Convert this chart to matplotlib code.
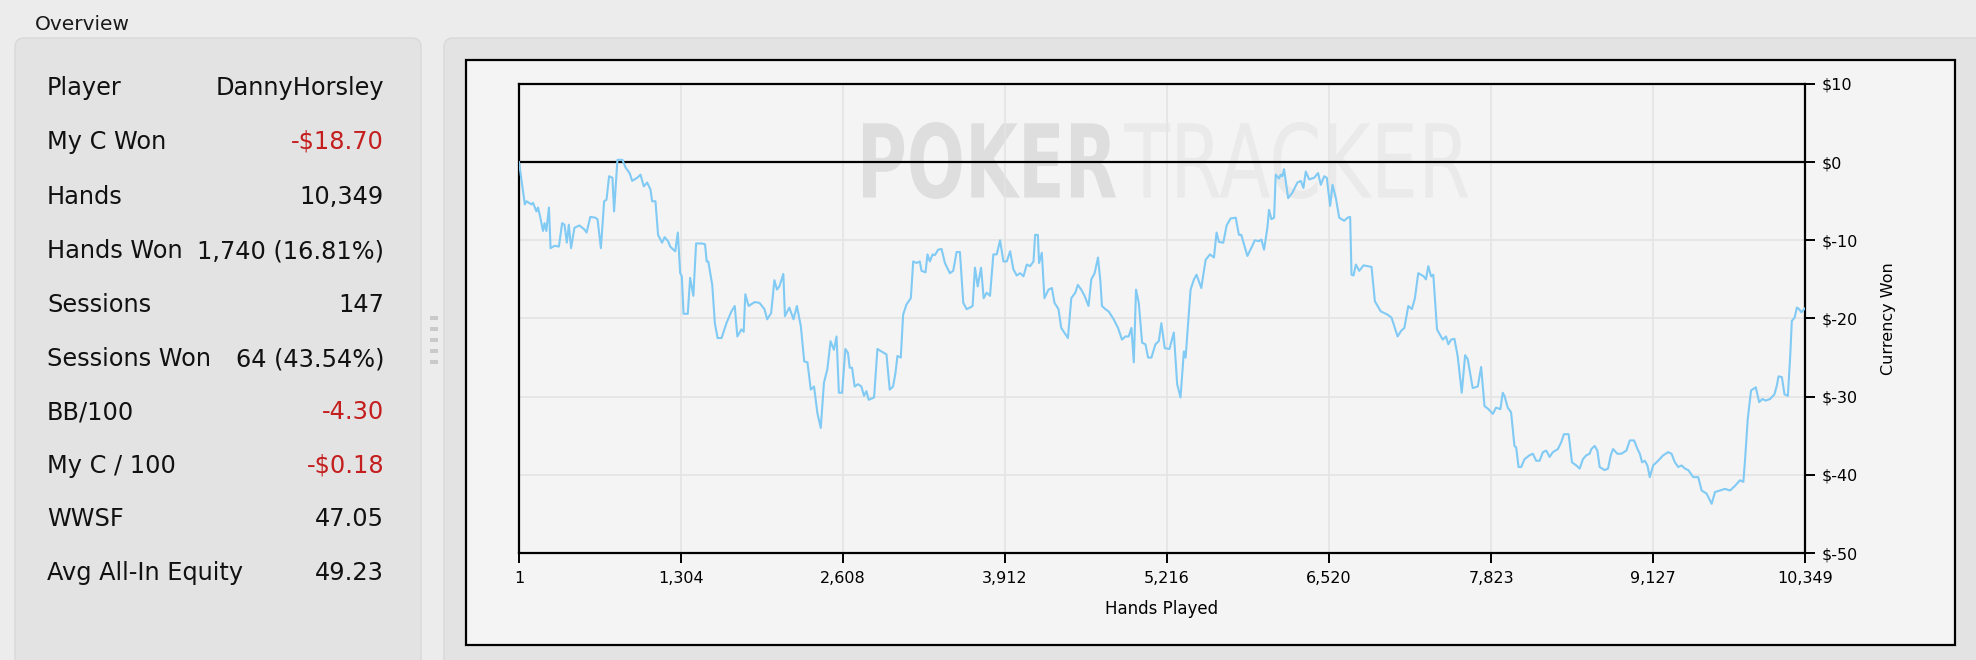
"""PokerTracker-style overview panel with a cumulative winnings graph."""

import matplotlib

matplotlib.use("Agg")
import matplotlib.pyplot as plt
from matplotlib.font_manager import FontProperties
from matplotlib.patches import FancyBboxPatch, PathPatch, Rectangle
from matplotlib.textpath import TextPath
from matplotlib.transforms import Affine2D

# --- stats table -----------------------------------------------------------
stat_labels = ["Player", "My C Won", "Hands", "Hands Won", "Sessions",
               "Sessions Won", "BB/100", "My C / 100", "WWSF",
               "Avg All-In Equity"]
stat_values = ["DannyHorsley", "-$18.70", "10,349", "1,740 (16.81%)", "147",
               "64 (43.54%)", "-4.30", "-$0.18", "47.05", "49.23"]
stat_negative = [False, True, False, False, False, False, True, True, False, False]

# --- graph data -------------------------------------------------------------
hands = [
    1, 48, 61, 101, 114, 141, 154, 173, 194, 207, 221, 242, 255, 287, 322, 348,
    367, 386, 402, 420, 447, 487, 527, 545, 575, 614, 633, 660, 686, 705, 726,
    753, 766, 793, 833, 859, 891, 912, 952, 979, 1005, 1032, 1059, 1072, 1099,
    1120, 1152, 1173, 1200, 1218, 1237, 1258, 1279, 1298, 1311, 1325, 1359,
    1378, 1404, 1426, 1471, 1498, 1511, 1524, 1556, 1577, 1599, 1631, 1670,
    1710, 1737, 1758, 1790, 1809, 1822, 1849, 1897, 1936, 1976, 1998, 2030,
    2056, 2077, 2096, 2128, 2141, 2176, 2210, 2237, 2269, 2296, 2322, 2349,
    2375, 2402, 2429, 2455, 2482, 2508, 2535, 2556, 2575, 2601, 2627, 2648,
    2662, 2681, 2702, 2729, 2756, 2777, 2796, 2815, 2858, 2885, 2917, 2958,
    2984, 3011, 3030, 3046, 3073, 3092, 3119, 3154, 3173, 3200, 3226, 3240,
    3272, 3288, 3307, 3329, 3347, 3374, 3401, 3428, 3468, 3495, 3522, 3549,
    3576, 3603, 3630, 3651, 3670, 3692, 3719, 3740, 3764, 3791, 3818, 3845,
    3872, 3899, 3926, 3953, 3979, 4006, 4033, 4060, 4087, 4114, 4141, 4154,
    4176, 4186, 4208, 4229, 4262, 4289, 4310, 4342, 4364, 4418, 4445, 4477,
    4498, 4525, 4552, 4584, 4606, 4633, 4660, 4679, 4692, 4719, 4746, 4786,
    4821, 4853, 4880, 4907, 4929, 4948, 4966, 4988, 5015, 5042, 5063, 5090,
    5122, 5149, 5170, 5197, 5235, 5270, 5297, 5324, 5351, 5365, 5405, 5432,
    5453, 5491, 5526, 5561, 5593, 5614, 5633, 5668, 5695, 5727, 5768, 5794,
    5813, 5862, 5902, 5921, 5956, 5975, 5996, 6023, 6036, 6055, 6077, 6090,
    6117, 6130, 6144, 6157, 6190, 6224, 6265, 6292, 6313, 6332, 6359, 6399,
    6431, 6453, 6480, 6501, 6528, 6547, 6574, 6601, 6641, 6668, 6689, 6700,
    6716, 6735, 6762, 6797, 6829, 6861, 6888, 6936, 6990, 7022, 7071, 7098,
    7125, 7157, 7186, 7210, 7237, 7280, 7299, 7318, 7340, 7358, 7388, 7434,
    7460, 7479, 7501, 7528, 7554, 7587, 7614, 7635, 7675, 7716, 7743, 7770,
    7802, 7837, 7863, 7898, 7917, 7931, 7957, 7984, 8011, 8025, 8044, 8065,
    8092, 8132, 8159, 8186, 8213, 8240, 8267, 8294, 8320, 8361, 8388, 8409,
    8447, 8474, 8509, 8536, 8562, 8589, 8616, 8630, 8657, 8678, 8697, 8737,
    8764, 8786, 8804, 8839, 8872, 8912, 8939, 8974, 9001, 9020, 9038, 9060,
    9081, 9100, 9127, 9167, 9208, 9248, 9275, 9302, 9329, 9356, 9383, 9410,
    9450, 9490, 9517, 9557, 9598, 9625, 9665, 9705, 9746, 9786, 9826, 9853,
    9867, 9888, 9915, 9953, 9980, 10006, 10033, 10068, 10103, 10122, 10136,
    10163, 10184, 10211, 10230, 10243, 10265, 10284, 10302, 10319, 10349,
]
won = [
    0.0, -5.4, -5.0, -5.4, -5.2, -6.3, -5.8, -7.1, -8.8, -7.8, -8.8, -5.8,
    -11.0, -10.7, -10.8, -7.8, -8.0, -10.3, -8.0, -11.0, -8.4, -8.1, -8.6,
    -9.0, -7.0, -7.1, -7.3, -11.0, -5.0, -4.8, -1.8, -2.0, -6.3, 0.3, 0.3,
    -0.7, -1.4, -2.4, -2.0, -1.6, -3.1, -2.6, -3.5, -5.0, -5.0, -9.3, -10.3,
    -9.6, -10.1, -10.8, -11.1, -11.4, -9.0, -14.2, -14.6, -19.4, -19.4,
    -14.8, -17.1, -10.4, -10.4, -10.5, -12.7, -12.7, -15.7, -20.6, -22.5,
    -22.5, -20.6, -19.1, -18.4, -22.3, -21.4, -21.7, -16.9, -18.4, -17.9,
    -18.0, -18.8, -20.1, -19.3, -15.1, -16.3, -15.9, -14.3, -19.7, -18.6,
    -20.1, -18.4, -21.0, -25.5, -25.6, -29.1, -28.7, -32.1, -34.0, -28.2,
    -26.5, -22.9, -24.0, -22.3, -29.5, -29.5, -23.9, -24.4, -26.3, -26.3,
    -28.7, -28.4, -28.7, -29.9, -29.3, -30.4, -30.1, -23.9, -24.2, -24.6,
    -29.1, -28.7, -27.0, -24.8, -25.0, -19.5, -18.2, -17.4, -12.7, -12.9,
    -12.7, -13.9, -14.1, -11.8, -12.7, -11.8, -11.9, -11.2, -11.1, -12.9,
    -14.2, -13.9, -11.5, -11.5, -18.0, -18.8, -18.6, -18.4, -13.5, -15.9,
    -13.5, -17.4, -16.7, -17.1, -11.8, -11.8, -10.0, -12.7, -12.7, -11.4,
    -13.7, -14.5, -14.2, -14.6, -13.1, -13.3, -12.7, -9.3, -9.3, -12.9,
    -11.6, -17.4, -16.3, -16.1, -18.0, -18.8, -21.2, -22.5, -17.4, -16.7,
    -15.7, -16.3, -17.1, -18.4, -15.0, -14.2, -12.2, -15.2, -18.4, -18.8,
    -19.1, -20.1, -21.2, -22.7, -22.3, -22.3, -21.2, -25.6, -16.3, -18.0,
    -23.1, -23.3, -25.0, -25.0, -23.3, -22.9, -20.6, -23.8, -23.9, -21.8,
    -28.4, -30.1, -24.2, -25.0, -16.3, -15.0, -14.4, -16.1, -12.5, -11.8,
    -12.2, -9.0, -10.2, -10.3, -8.1, -7.2, -7.1, -9.3, -9.3, -12.0, -10.7,
    -10.0, -10.1, -9.9, -11.2, -8.4, -6.1, -7.3, -7.1, -1.6, -2.1, -1.6,
    -1.8, -0.9, -4.6, -3.9, -2.6, -2.4, -3.3, -1.2, -2.2, -2.0, -1.4, -2.9,
    -1.8, -2.0, -5.6, -2.9, -4.6, -7.1, -7.5, -7.1, -7.0, -14.4, -14.5,
    -13.1, -13.9, -13.2, -13.3, -13.4, -17.8, -19.1, -19.5, -19.9, -22.3,
    -21.6, -21.2, -18.4, -18.8, -17.4, -14.2, -14.6, -15.0, -13.3, -14.6,
    -14.4, -21.4, -22.7, -22.3, -23.3, -22.7, -22.6, -24.8, -29.5, -24.7,
    -25.2, -28.9, -28.7, -26.2, -31.2, -31.6, -32.2, -31.4, -31.6, -29.5,
    -29.9, -31.4, -32.0, -36.3, -36.5, -39.0, -39.0, -38.0, -37.5, -37.3,
    -38.2, -38.2, -37.1, -36.9, -37.7, -37.1, -36.7, -35.8, -34.8, -34.8,
    -38.4, -38.8, -39.2, -38.0, -37.5, -37.3, -36.7, -36.3, -36.9, -39.0,
    -39.4, -39.2, -37.5, -36.7, -37.3, -37.3, -36.9, -35.6, -35.6, -36.7,
    -37.3, -38.4, -38.2, -38.8, -40.3, -38.8, -38.2, -37.5, -37.1, -37.3,
    -38.4, -39.0, -38.8, -39.2, -39.4, -40.3, -40.3, -42.0, -42.4, -43.7,
    -42.2, -42.0, -41.8, -42.0, -41.4, -40.7, -40.9, -38.0, -32.9, -29.2,
    -28.8, -30.7, -30.3, -30.5, -30.3, -29.7, -28.6, -27.4, -27.5, -29.7,
    -29.9, -24.8, -20.3, -19.9, -18.6, -18.8, -19.2, -18.7,
]

x_ticks = [1, 1304, 2608, 3912, 5216, 6520, 7823, 9127, 10349]
x_tick_labels = ["1", "1,304", "2,608", "3,912", "5,216", "6,520", "7,823",
                 "9,127", "10,349"]
y_ticks = [10, 0, -10, -20, -30, -40, -50]
y_tick_labels = ["$10", "$0", "$-10", "$-20", "$-30", "$-40", "$-50"]

W, H = 1976, 660
RED = "#c41e1e"
LINE = "#80caf4"

fig = plt.figure(figsize=(W / 100, H / 100), dpi=100, facecolor="#ececec")

# background layer in pixel coordinates (y downwards)
bg = fig.add_axes([0, 0, 1, 1])
bg.set_xlim(0, W)
bg.set_ylim(H, 0)
bg.axis("off")

bg.text(35, 24, "Overview", fontsize=14.5, va="center", ha="left", color="#1a1a1a")

for x0, x1 in [(15, 421), (444, W + 20)]:
    bg.add_patch(FancyBboxPatch((x0, 38), x1 - x0, H, boxstyle="round,pad=0,rounding_size=9",
                                fc="#e3e3e3", ec="#d9d9d9", lw=1))

row_y = [88, 142, 197, 251, 305, 359, 412, 466, 519, 573]
for y, lab, val, neg in zip(row_y, stat_labels, stat_values, stat_negative):
    bg.text(47, y, lab, fontsize=17.3, va="center", ha="left", color="#111111")
    bg.text(384, y, val, fontsize=17.3, va="center", ha="right",
            color=RED if neg else "#111111")

# splitter grip
for y in [316, 327, 338, 349, 360]:
    bg.add_patch(Rectangle((430, y), 8, 4, fc="#c9c9c9", ec="none"))

# chart frame
bg.add_patch(Rectangle((466, 60), 1489, 585, fc="#f4f4f4", ec="black", lw=1.6))


def watermark(text, weight, x0, x1, color):
    tp = TextPath((0, 0), text, size=100, prop=FontProperties(family="DejaVu Sans", weight=weight))
    bb = tp.get_extents()
    tr = (Affine2D().translate(-bb.x0, -bb.y0)
          .scale((x1 - x0) / bb.width, -77 / bb.height).translate(x0, 199))
    bg.add_patch(PathPatch(tr.transform_path(tp), fc=color, ec="none"))


watermark("POKER", "bold", 863, 1116, "#dedede")
watermark("TRACKER", "normal", 1124, 1468, "#eaeaea")

# graph
ax = fig.add_axes([519 / W, 1 - 553 / H, 1286 / W, 469 / H])
ax.set_facecolor("none")
ax.plot(hands, won, color=LINE, lw=1.5, zorder=3)
ax.axhline(0, color="black", lw=1.6, zorder=2)
ax.set_xlim(1, 10349)
ax.set_ylim(-50, 10)

ax.set_xticks(x_ticks)
ax.set_xticklabels(x_tick_labels)
ax.set_yticks(y_ticks)
ax.set_yticklabels(y_tick_labels)
ax.yaxis.tick_right()
ax.tick_params(axis="both", direction="out", length=7, width=1.4, labelsize=11.5,
               colors="black", pad=5)
ax.tick_params(axis="x", pad=6)
ax.grid(True, color="#e4e4e4", lw=1.2, zorder=0)
ax.set_axisbelow(True)
for sp in ax.spines.values():
    sp.set_color("black")
    sp.set_linewidth(1.6)

ax.set_xlabel("Hands Played", fontsize=12)
ax.xaxis.set_label_coords(0.5, -0.10)
ax.yaxis.set_label_position("right")
ax.set_ylabel("Currency Won", fontsize=11.5, rotation=90)
ax.yaxis.set_label_coords((1881 - 519) / 1286, 0.5)

fig.savefig("out.png", dpi=100, facecolor=fig.get_facecolor())
